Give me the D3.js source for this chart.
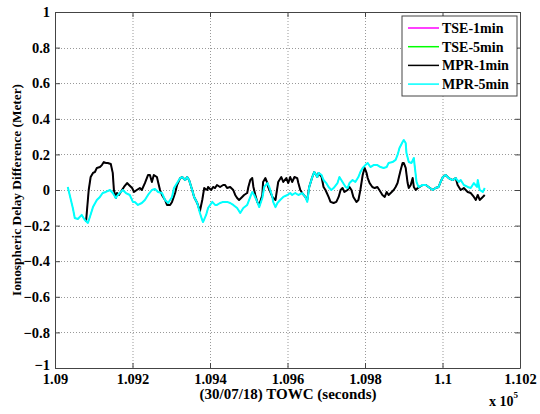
<!DOCTYPE html>
<html>
<head>
<meta charset="utf-8">
<script src="https://cdn.jsdelivr.net/npm/d3@7"></script>
<style>
  body { margin: 0; background: #fff; }
  svg text { font-family: "Liberation Serif", "Times New Roman", serif; font-weight: bold; }
</style>
</head>
<body>
<svg id="chart" width="540" height="414"></svg>
<script>
// tick values of the axes
var xTicks = [109000, 109200, 109400, 109600, 109800, 110000, 110200];
var yTicks = [-1, -0.8, -0.6, -0.4, -0.2, 0, 0.2, 0.4, 0.6, 0.8, 1];

var seriesNames = ["TSE-1min", "TSE-5min", "MPR-1min", "MPR-5min"];
var seriesColors = ["#ff00ff", "#00ff00", "#000000", "#00ffff"];

// [TOWC seconds, difference in meters]
var mpr1Min = [
  [109080,-0.180],[109087,0],[109092,0.073],[109098,0.096],[109103,0.101],[109108,0.124],[109116,0.129],[109121,0.140],
  [109126,0.157],[109131,0.152],[109136,0.152],[109144,0.146],[109149,0.096],[109152,0],[109157,-0.045],[109160,-0.017],
  [109165,-0.028],[109173,0],[109178,0.017],[109186,0.039],[109191,0.028],[109199,0.011],[109204,-0.011],[109211,0],
  [109219,0.011],[109224,0],[109232,0.039],[109240,0.084],[109245,0.084],[109250,0.045],[109255,0.084],[109263,0.073],
  [109266,0.045],[109271,0],[109276,-0.028],[109284,-0.056],[109289,-0.084],[109297,-0.084],[109302,-0.067],[109310,-0.017],
  [109315,0.028],[109323,0.067],[109328,0.073],[109336,0.056],[109341,0.073],[109346,0.056],[109354,0],[109359,-0.039],
  [109367,-0.073],[109374,-0.118],[109380,-0.056],[109385,0.011],[109393,0],[109395,0.017],[109403,0],[109408,0.017],
  [109413,0.011],[109418,0.028],[109426,0.017],[109434,0.028],[109439,0.028],[109444,0.011],[109452,0.017],[109460,0],
  [109465,-0.028],[109470,-0.045],[109475,-0.056],[109483,-0.039],[109488,-0.028],[109496,-0.017],[109499,0.017],[109504,0.056],
  [109509,0.067],[109512,0.017],[109517,-0.028],[109522,-0.067],[109527,-0.084],[109535,-0.028],[109537,0.045],[109543,0.067],
  [109548,0.039],[109550,0.017],[109561,-0.039],[109569,-0.056],[109576,0.045],[109584,0.073],[109589,0.045],[109597,0.067],
  [109602,0.039],[109607,0.073],[109612,0.045],[109618,0.073],[109625,0.067],[109628,0.039],[109633,0],[109638,-0.017],
  [109646,-0.039],[109651,-0.056],[109656,0.017],[109664,0.073],[109669,0.101],[109677,0.073],[109680,0.096],[109688,0.073],
  [109693,0.017],[109698,0],[109706,-0.039],[109711,-0.067],[109719,-0.073],[109726,-0.067],[109732,-0.039],[109737,0],
  [109742,0.011],[109747,-0.011],[109755,0],[109760,0.017],[109765,0],[109770,-0.039],[109778,-0.067],[109783,-0.056],
  [109788,0],[109794,0.084],[109799,0.124],[109804,0.096],[109807,0.067],[109812,0.039],[109819,0.017],[109825,0.011],
  [109832,0.017],[109837,0],[109845,-0.028],[109851,-0.039],[109856,-0.011],[109861,-0.028],[109869,-0.011],[109874,0],
  [109879,0.017],[109884,0.039],[109887,0.067],[109892,0.112],[109897,0.152],[109900,0.152],[109905,0.124],[109910,0.039],
  [109913,0.011],[109918,0.028],[109923,0.067],[109926,0.017],[109931,0],[109936,0.011],[109949,0.028],[109957,0.028],
  [109964,0.017],[109975,0],[109982,0.011],[109990,0.017],[109995,0.045],[110001,0.073],[110008,0.084],[110016,0.067],
  [110026,0.056],[110034,0.067],[110039,0.028],[110047,0],[110055,0.011],[110065,-0.011],[110073,-0.017],[110081,-0.039],
  [110086,-0.056],[110091,-0.028],[110096,-0.056],[110104,-0.039],[110109,-0.028]
];

var mpr5Min = [
  [109033,0.017],[109046,-0.101],[109051,-0.157],[109059,-0.163],[109069,-0.140],[109077,-0.169],[109085,-0.185],[109090,-0.152],
  [109098,-0.096],[109108,-0.056],[109116,-0.039],[109123,-0.017],[109131,-0.011],[109142,0],[109149,-0.017],[109157,-0.045],
  [109162,-0.028],[109167,-0.017],[109175,0],[109183,-0.017],[109193,-0.028],[109201,-0.067],[109206,-0.067],[109214,-0.084],
  [109224,-0.073],[109232,-0.056],[109240,-0.028],[109250,0],[109258,0.006],[109266,-0.011],[109276,-0.017],[109284,-0.056],
  [109292,-0.073],[109302,-0.039],[109307,0.011],[109315,0.039],[109323,0.067],[109328,0.073],[109336,0.056],[109341,0.073],
  [109346,0.056],[109354,0],[109359,-0.039],[109367,-0.073],[109374,-0.129],[109380,-0.169],[109382,-0.180],[109390,-0.140],
  [109395,-0.101],[109406,-0.067],[109413,-0.084],[109418,-0.084],[109426,-0.073],[109434,-0.067],[109444,-0.067],[109452,-0.073],
  [109460,-0.084],[109470,-0.101],[109478,-0.129],[109486,-0.101],[109496,-0.084],[109504,-0.039],[109509,-0.011],[109514,-0.028],
  [109522,-0.067],[109527,-0.096],[109535,-0.045],[109540,0.017],[109548,0.039],[109553,0.017],[109561,-0.039],[109563,-0.067],
  [109569,-0.096],[109574,-0.073],[109581,-0.056],[109589,-0.039],[109600,-0.028],[109607,-0.017],[109612,-0.028],[109620,-0.017],
  [109628,-0.028],[109638,-0.017],[109646,-0.039],[109651,-0.067],[109656,0.017],[109664,0.073],[109669,0.101],[109677,0.073],
  [109680,0.096],[109688,0.084],[109693,0.056],[109700,0.039],[109706,0.017],[109713,0],[109719,0.011],[109729,0.039],
  [109734,0.073],[109742,0.045],[109750,0.017],[109755,0.011],[109760,0.039],[109768,0.056],[109775,0.045],[109783,0.073],
  [109788,0.101],[109794,0.124],[109801,0.140],[109807,0.152],[109814,0.129],[109822,0.140],[109832,0.140],[109840,0.129],
  [109848,0.124],[109856,0.129],[109861,0.152],[109871,0.157],[109879,0.169],[109884,0.197],[109889,0.236],[109897,0.270],
  [109900,0.281],[109905,0.264],[109907,0.208],[109913,0.157],[109920,0.152],[109926,0.180],[109928,0.140],[109933,0.045],
  [109938,0.017],[109949,0.028],[109957,0.028],[109964,0.017],[109975,0],[109982,0.011],[109990,0.017],[109995,0.045],
  [110001,0.073],[110008,0.084],[110016,0.067],[110026,0.056],[110034,0.067],[110042,0.045],[110047,0.056],[110055,0.028],
  [110065,0.017],[110073,0.011],[110081,0.039],[110089,0.017],[110091,0.056],[110096,0],[110104,-0.011],[110109,0.011]
];

// the TSE curves lie under the MPR curves in the picture
var tse1Min = mpr1Min;
var tse5Min = mpr5Min;

var allSeries = [tse1Min, tse5Min, mpr1Min, mpr5Min];
var lineWidths = [1, 1, 2, 2];

var svg = d3.select("#chart");
var margin = {top: 12, left: 55, right: 20, bottom: 46};
var width = 540 - margin.left - margin.right;
var height = 414 - margin.top - margin.bottom;

svg.append("rect").attr("width", 540).attr("height", 414).attr("fill", "#fff");

var g = svg.append("g").attr("transform", "translate(" + margin.left + "," + margin.top + ")");

var x = d3.scaleLinear().domain([109000, 110200]).range([0, width]);
var y = d3.scaleLinear().domain([-1, 1]).range([height, 0]);

// grid
g.append("g").selectAll("line")
  .data(xTicks.slice(1, -1))
  .enter().append("line")
  .attr("x1", d => x(d) + 0.5).attr("x2", d => x(d) + 0.5)
  .attr("y1", 0).attr("y2", height)
  .attr("stroke", "#999").attr("stroke-dasharray", "1,2");
g.append("g").selectAll("line")
  .data(yTicks.slice(1, -1))
  .enter().append("line")
  .attr("y1", d => Math.round(y(d)) + 0.5).attr("y2", d => Math.round(y(d)) + 0.5)
  .attr("x1", 0).attr("x2", width)
  .attr("stroke", "#999").attr("stroke-dasharray", "1,2");

// lines
var line = d3.line().x(d => x(d[0])).y(d => y(d[1]));
g.append("g").selectAll("path")
  .data(allSeries)
  .enter().append("path")
  .attr("d", line)
  .attr("fill", "none")
  .attr("stroke", (d, i) => seriesColors[i])
  .attr("stroke-width", (d, i) => lineWidths[i])
  .attr("stroke-linejoin", "round");

// axes (ticks inward, box all round)
var fmtX = d => d3.format("")(+(d / 1e5).toFixed(3));
var bottomAxis = d3.axisBottom(x).tickValues(xTicks).tickSizeInner(-5).tickSizeOuter(0).tickPadding(6).tickFormat(fmtX);
var leftAxis = d3.axisLeft(y).tickValues(yTicks).tickSizeInner(-5).tickSizeOuter(0).tickPadding(5).tickFormat(d => d3.format("")(d));
var topAxis = d3.axisTop(x).tickValues(xTicks).tickSizeInner(-5).tickSizeOuter(0).tickFormat("");
var rightAxis = d3.axisRight(y).tickValues(yTicks).tickSizeInner(-5).tickSizeOuter(0).tickFormat("");

var axes = [
  g.append("g").attr("transform", "translate(0," + height + ")").call(bottomAxis),
  g.append("g").call(leftAxis),
  g.append("g").call(topAxis),
  g.append("g").attr("transform", "translate(" + width + ",0)").call(rightAxis)
];
axes.forEach(function(a) {
  a.selectAll("path, line").attr("stroke", "#444");
  a.selectAll("text").attr("fill", "#000").style("font-size", "14.5px")
    .style("font-family", "'Liberation Serif', serif").style("font-weight", "bold");
});
// the -1 label sits just above the first x label, as in MATLAB
axes[1].selectAll(".tick").filter(d => d === -1).select("text").attr("y", -3);

// axis labels
svg.append("text")
  .attr("x", 288).attr("y", 399)
  .attr("text-anchor", "middle").style("font-size", "15px")
  .text("(30/07/18) TOWC (seconds)");

svg.append("text")
  .attr("transform", "translate(21," + (margin.top + height / 2) + ") rotate(-90)")
  .attr("text-anchor", "middle").style("font-size", "13.3px")
  .text("Ionospheric Delay Difference (Meter)");

var mult = svg.append("text").attr("x", 489).attr("y", 406).style("font-size", "14px");
mult.append("tspan").text("x 10");
mult.append("tspan").attr("dy", -8).style("font-size", "9px").text("5");

// legend
var legend = svg.append("g").attr("transform", "translate(402,16)");
legend.append("rect").attr("width", 115).attr("height", 80)
  .attr("fill", "#fff").attr("stroke", "#444");
var rows = legend.selectAll("g.row")
  .data(seriesNames)
  .enter().append("g").attr("class", "row")
  .attr("transform", (d, i) => "translate(0," + (12 + i * 18.7) + ")");
rows.append("line").attr("x1", 6).attr("x2", 37)
  .attr("stroke", (d, i) => seriesColors[i]).attr("stroke-width", 1.5);
rows.append("text").attr("x", 40).attr("y", 5).style("font-size", "14px").text(d => d);
</script>
</body>
</html>
